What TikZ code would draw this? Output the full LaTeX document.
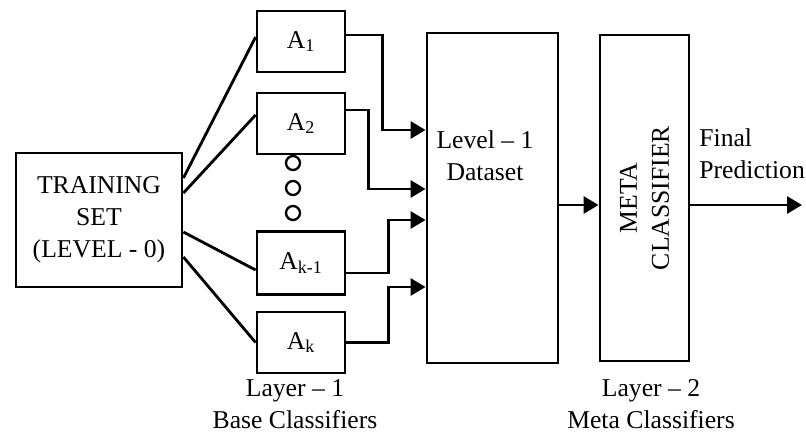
\documentclass[tikz,border=0pt]{standalone}
\usepackage{fontspec}
\setmainfont{Liberation Serif}
\usetikzlibrary{arrows.meta,calc,positioning}

\begin{document}
\begin{tikzpicture}[>={Triangle[length=0.3cm,width=0.34cm]},
  every node/.style={font=\fontsize{14.6}{18.2}\selectfont},
  box/.style={draw,line width=1.6pt,inner sep=0pt,align=center},
  clf/.style={box,minimum width=1.76cm,minimum height=1.22cm},
  wire/.style={line width=1.6pt},
  flow/.style={line width=1.6pt,->}]
\useasboundingbox (0,0) rectangle (16.12,8.68);
% level 0 and base classifiers
\node[box,minimum width=3.32cm,minimum height=2.68cm] (train) at (1.98,4.28) {TRAINING\\SET\\(LEVEL - 0)};
\node[clf] (a1) at (6.02,7.85) {A\textsubscript{1}};
\node[clf] (a2) at (6.02,6.21) {A\textsubscript{2}};
\node[clf,minimum height=1.26cm] (ak1) at (6.02,3.42) {A\textsubscript{k-1}};
\node[clf] (ak) at (6.02,1.83) {A\textsubscript{k}};
\foreach \y in {5.42,4.92,4.42}
  \draw[line width=1.3pt] (5.86,\y) circle (0.14);
% level 1 and meta classifier
\node[box,minimum width=2.62cm,minimum height=6.6cm] (level) at (9.85,4.72) {};
\node[align=center] (leveltxt) at ($(level.north)+(-0.15,-2.49)$) {Level – 1\\Dataset};
\node[box,minimum width=1.78cm,minimum height=6.52cm] (meta) at (12.89,4.72) {};
\node[rotate=90,align=center] (metatxt) at (meta.center) {META\\CLASSIFIER};
\coordinate (out) at (16.04,4.58);
% training set to base classifiers
\draw[wire] ([yshift=0.84cm]train.east) -- ([yshift=0.09cm]a1.west);
\draw[wire] ([yshift=0.54cm]train.east) -- ([yshift=0.17cm]a2.west);
\draw[wire] ([yshift=-0.24cm]train.east) -- ([yshift=-0.14cm]ak1.west);
\draw[wire] ([yshift=-0.74cm]train.east) -- (ak.west);
% base classifiers to dataset
\draw[flow] ([yshift=0.13cm]a1.east) -- ++(0.72,0) |- ([yshift=1.36cm]level.west);
\draw[flow] ([yshift=0.27cm]a2.east) -- ++(0.44,0) |- ([yshift=0.18cm]level.west);
\draw[flow] ([yshift=-0.2cm]ak1.east) -- ++(0.84,0) |- ([yshift=-0.44cm]level.west);
\draw[flow] (ak.east) -- ++(0.84,0) |- ([yshift=-1.78cm]level.west);
\draw[flow] ([yshift=-0.14cm]level.east) -- ([yshift=-0.14cm]meta.west);
\draw[flow] ([yshift=-0.14cm]meta.east) -- (out);
% labels
\node[align=left,anchor=west,inner sep=0pt] (final) at (13.98,5.6) {Final\\Prediction};
\node[align=center] (layer1) at (5.9,0.6) {Layer – 1\\Base Classifiers};
\node[align=center] (layer2) at (13.02,0.6) {Layer – 2\\Meta Classifiers};
\end{tikzpicture}
\end{document}
